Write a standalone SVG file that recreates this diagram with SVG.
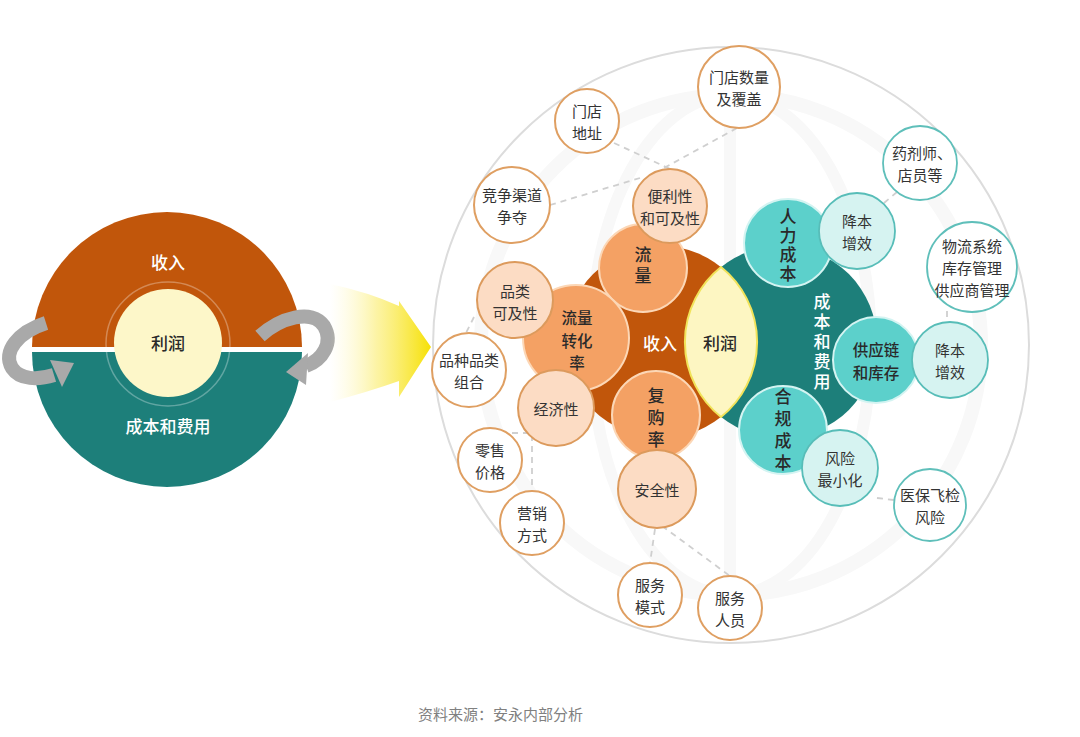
<svg xmlns="http://www.w3.org/2000/svg" width="1080" height="737" viewBox="0 0 1080 737">
<defs>
<linearGradient id="yg" x1="330" y1="0" x2="432" y2="0" gradientUnits="userSpaceOnUse">
<stop offset="0" stop-color="#fff9c0" stop-opacity="0"/>
<stop offset="0.45" stop-color="#fbef80" stop-opacity="0.7"/>
<stop offset="1" stop-color="#f6e000"/>
</linearGradient>
<style>
text{font-family:"Noto Sans CJK SC","Noto Sans",sans-serif;text-anchor:middle;dominant-baseline:central}
.t{fill:#333;font-size:15px}
.tb{fill:#2a2a2a;font-size:17px;font-weight:500}
.tm{fill:#2a2a2a;font-size:15.5px;font-weight:500}
.tw{fill:#fff;font-size:17px;font-weight:500}
.v{writing-mode:vertical-rl}
.big-o{fill:#c1560b}
.big-t{fill:#1d7f7a}
.sub-o{fill:#f4a164;stroke:#fcd7b6;stroke-width:2}
.peach{fill:#fcdcc4;stroke:#dc9a5c;stroke-width:2}
.wo{fill:#fff;stroke:#df9f62;stroke-width:2}
.sub-t{fill:#5cd0cb;stroke:#d4f4f2;stroke-width:2}
.lt{fill:#d6f3f1;stroke:#57bdb8;stroke-width:1.8}
.wt{fill:#fff;stroke:#5fbfba;stroke-width:1.8}
.dash{fill:none;stroke:#cfcfcf;stroke-width:1.8;stroke-dasharray:6 5}
.garrow{fill:none;stroke:#a9a9a9;stroke-width:14}
.faint{fill:none;stroke:#f8f8f8}
</style>
</defs>
<rect width="1080" height="737" fill="#fff"/>

<!-- left cycle -->
<g id="left-cycle">
<path class="big-o" d="M32 347 A135 135 0 0 1 302 347 Z"/>
<path class="big-t" d="M32 352 A135 135 0 0 0 302 352 Z"/>
<circle cx="168" cy="344" r="62" fill="none" stroke="#fff" stroke-opacity="0.3" stroke-width="1.5"/>
<circle cx="168" cy="343" r="54" fill="#fdf7c9"/>
<text class="tw" x="168" y="261">收入</text>
<text class="tb" x="168" y="342">利润</text>
<text class="tw" x="168" y="425">成本和费用</text>
</g>
<g id="cycle-arrows">
<path class="garrow" d="M46 323 C18 332 2 352 12 368 C20 380 38 380 54 375"/>
<polygon fill="#a9a9a9" points="50,360 74,363 62,387"/>
<path class="garrow" d="M260 336 C280 318 312 308 324 326 C334 343 322 360 306 366"/>
<polygon fill="#a9a9a9" points="308,353 286,372 306,385"/>
</g>

<!-- yellow arrow -->
<g id="transition-arrow">
<path fill="url(#yg)" d="M330 284 Q368 292 399 306 L399 301 L431 347 L399 397 L399 381 Q368 392 330 402 Z"/>
</g>

<!-- right diagram background -->
<g id="frame">
<circle cx="731" cy="345" r="298" fill="none" stroke="#dcdcdc" stroke-width="2"/>
<circle class="faint" cx="731" cy="345" r="250" stroke-width="14"/>
<ellipse class="faint" cx="731" cy="345" rx="140" ry="250" stroke-width="12"/>
<line class="faint" x1="730" y1="95" x2="730" y2="595" stroke-width="12"/>
</g>

<!-- connectors -->
<g id="connectors">
<line class="dash" x1="614" y1="143" x2="670" y2="169"/>
<line class="dash" x1="737" y1="128" x2="664" y2="168"/>
<line class="dash" x1="550" y1="205" x2="640" y2="178"/>
<line class="dash" x1="474" y1="317" x2="466" y2="333"/>
<polyline class="dash" points="512,433 532,433 532,491"/>
<line class="dash" x1="655" y1="529" x2="650" y2="563"/>
<line class="dash" x1="662" y1="526" x2="730" y2="576"/>
<line class="dash" x1="884" y1="203" x2="897" y2="192"/>
<line class="dash" x1="947" y1="311" x2="947" y2="323"/>
<line class="dash" x1="877" y1="498" x2="894" y2="500"/>
</g>

<g id="revenue"><circle class="big-o" cx="661" cy="342" r="96"/><text class="tw" x="660" y="342">收入</text></g>
<g id="cost"><circle class="big-t" cx="781" cy="342" r="96"/>
<text class="tw v" x="822" y="343" style="letter-spacing:3px">成本和费用</text></g>
<g id="profit"><path d="M721 267 A96 96 0 0 1 721 417 A96 96 0 0 1 721 267 Z" fill="#fdf6c2" stroke="#f1e35a" stroke-width="2"/><text class="tb" x="720" y="342">利润</text></g>

<!-- orange sub nodes -->
<g id="traffic"><circle class="sub-o" cx="643" cy="268" r="44"/><text class="tb v" x="643" y="267" style="letter-spacing:4px">流量</text></g>
<g id="conversion"><circle class="sub-o" cx="576" cy="338" r="53"/><text class="tm" x="577" y="317">流量<tspan x="577" dy="22.5">转化</tspan><tspan x="577" dy="22.5">率</tspan></text></g>
<g id="repurchase"><circle class="sub-o" cx="656" cy="415" r="44"/><text class="tb v" x="656" y="420" style="letter-spacing:5px">复购率</text></g>

<!-- peach nodes -->
<g id="convenience"><circle class="peach" cx="670" cy="206" r="37"/><text class="t" x="670" y="195">便利性<tspan x="670" dy="22">和可及性</tspan></text></g>
<g id="category-access"><circle class="peach" cx="515" cy="300" r="38"/><text class="t" x="515" y="290">品类<tspan x="515" dy="22">可及性</tspan></text></g>
<g id="economy"><circle class="peach" cx="556" cy="408" r="38"/><text class="t" x="556" y="408">经济性</text></g>
<g id="safety"><circle class="peach" cx="657" cy="489" r="39"/><text class="t" x="657" y="489">安全性</text></g>

<!-- white orange-ring nodes -->
<g id="store-address"><circle class="wo" cx="587" cy="121" r="32"/><text class="t" x="587" y="110">门店<tspan x="587" dy="22">地址</tspan></text></g>
<g id="store-count"><circle class="wo" cx="739" cy="87" r="41"/><text class="t" x="739" y="76">门店数量<tspan x="739" dy="22">及覆盖</tspan></text></g>
<g id="channel"><circle class="wo" cx="512" cy="205" r="38"/><text class="t" x="512" y="194">竞争渠道<tspan x="512" dy="22">争夺</tspan></text></g>
<g id="assortment"><circle class="wo" cx="469" cy="370" r="37"/><text class="t" x="469" y="359">品种品类<tspan x="469" dy="22">组合</tspan></text></g>
<g id="price"><circle class="wo" cx="490" cy="460" r="32"/><text class="t" x="490" y="449">零售<tspan x="490" dy="22">价格</tspan></text></g>
<g id="marketing"><circle class="wo" cx="532" cy="523" r="32"/><text class="t" x="532" y="512">营销<tspan x="532" dy="22">方式</tspan></text></g>
<g id="service-mode"><circle class="wo" cx="650" cy="595" r="32"/><text class="t" x="650" y="584">服务<tspan x="650" dy="22">模式</tspan></text></g>
<g id="service-staff"><circle class="wo" cx="730" cy="608" r="32"/><text class="t" x="730" y="597">服务<tspan x="730" dy="22">人员</tspan></text></g>

<!-- teal sub nodes -->
<g id="labor"><circle class="sub-t" cx="788" cy="243" r="44"/><text class="tb v" x="788" y="246" style="letter-spacing:2px">人力成本</text></g>
<g id="supply"><circle class="sub-t" cx="876" cy="360" r="43"/><text class="tm" x="876" y="349">供应链<tspan x="876" dy="22.5">和库存</tspan></text></g>
<g id="compliance"><circle class="sub-t" cx="783" cy="430" r="44"/><text class="tb v" x="783" y="432" style="letter-spacing:5px">合规成本</text></g>

<!-- light teal nodes -->
<g id="efficiency-1"><circle class="lt" cx="857" cy="231" r="38"/><text class="t" x="857" y="220">降本<tspan x="857" dy="22">增效</tspan></text></g>
<g id="efficiency-2"><circle class="lt" cx="950" cy="360" r="38"/><text class="t" x="950" y="349">降本<tspan x="950" dy="22">增效</tspan></text></g>
<g id="risk"><circle class="lt" cx="840" cy="468" r="38"/><text class="t" x="840" y="457">风险<tspan x="840" dy="22">最小化</tspan></text></g>

<!-- white teal-ring nodes -->
<g id="pharmacist"><circle class="wt" cx="920" cy="163" r="37"/><text class="t" x="922" y="152">药剂师、<tspan x="920" dy="22">店员等</tspan></text></g>
<g id="logistics"><circle class="wt" cx="972" cy="267" r="45"/><text class="t" x="972" y="245">物流系统<tspan x="972" dy="22">库存管理</tspan><tspan x="972" dy="22">供应商管理</tspan></text></g>
<g id="inspection"><circle class="wt" cx="930" cy="505" r="36"/><text class="t" x="930" y="494">医保飞检<tspan x="930" dy="22">风险</tspan></text></g>

<text x="418" y="713" style="text-anchor:start;fill:#808080;font-size:15px">资料来源：安永内部分析</text>
</svg>
